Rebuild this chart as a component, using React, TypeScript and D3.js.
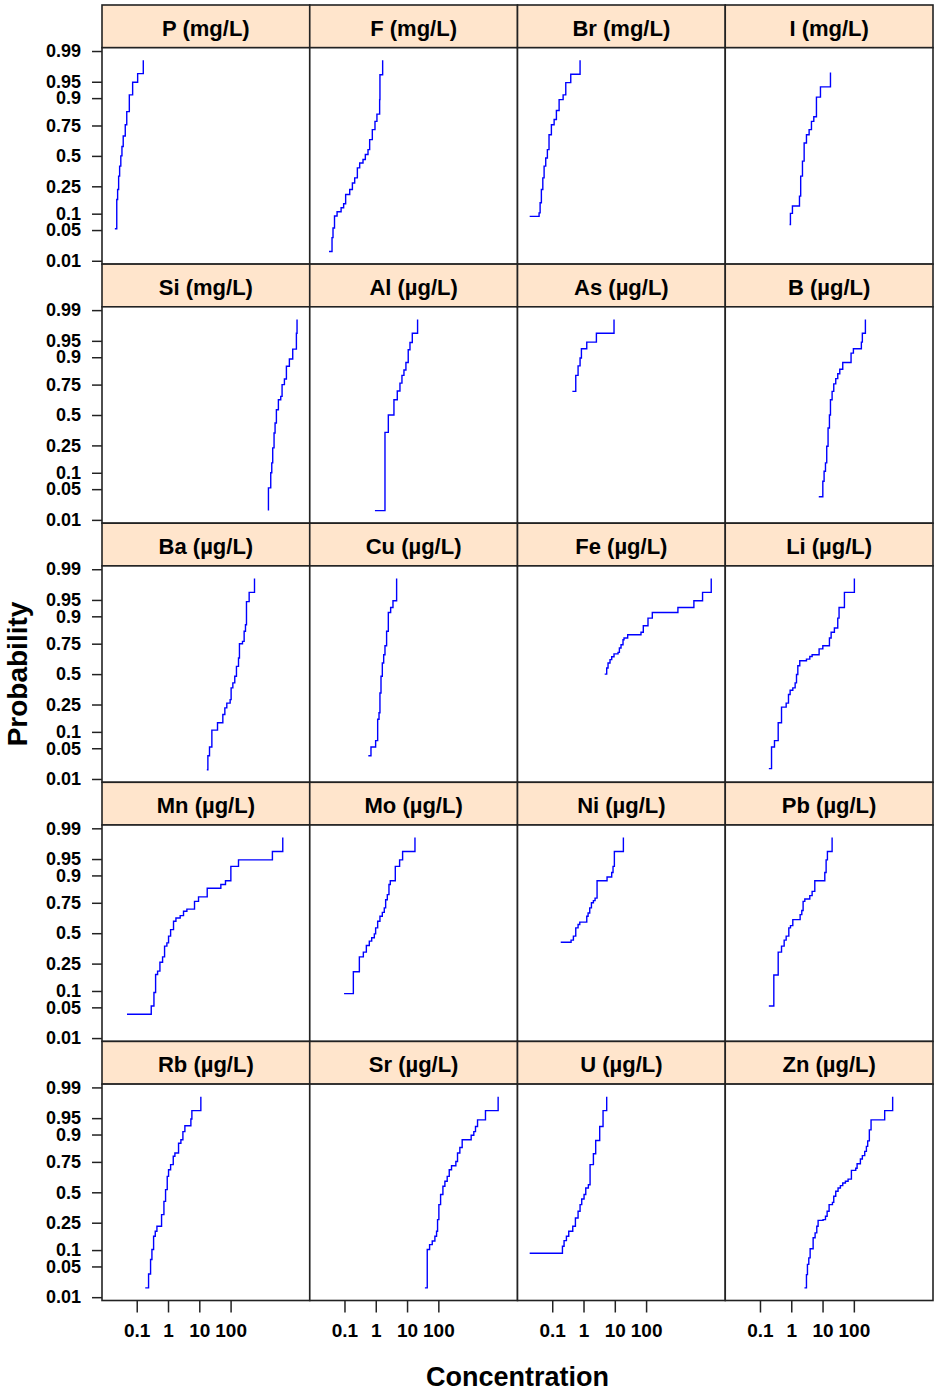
import React, { useEffect, useRef } from "react";
import * as d3 from "d3";

// panel titles, in reading order (4 per row)
const labels = [
  "P (mg/L)", "F (mg/L)", "Br (mg/L)", "I (mg/L)",
  "Si (mg/L)", "Al (µg/L)", "As (µg/L)", "B (µg/L)",
  "Ba (µg/L)", "Cu (µg/L)", "Fe (µg/L)", "Li (µg/L)",
  "Mn (µg/L)", "Mo (µg/L)", "Ni (µg/L)", "Pb (µg/L)",
  "Rb (µg/L)", "Sr (µg/L)", "U (µg/L)", "Zn (µg/L)",
];

// step vertices: concentration and cumulative probability
const P_conc = [0.020, 0.023, 0.0245, 0.0264, 0.0284, 0.031, 0.0337, 0.037, 0.043, 0.048, 0.058, 0.074, 0.107, 0.162];
const P_prob = [0.053, 0.167, 0.228, 0.327, 0.41, 0.50, 0.583, 0.67, 0.755, 0.837, 0.912, 0.949, 0.966, 0.983];
const F_conc = [0.032, 0.040, 0.043, 0.048, 0.058, 0.078, 0.094, 0.109, 0.147, 0.179, 0.212, 0.258, 0.306, 0.391, 0.464, 0.565, 0.638, 0.776, 0.944, 1.09, 1.33, 1.36, 1.66];
const F_prob = [0.017, 0.035, 0.055, 0.091, 0.108, 0.125, 0.144, 0.196, 0.228, 0.274, 0.313, 0.395, 0.438, 0.468, 0.512, 0.555, 0.641, 0.72, 0.778, 0.823, 0.894, 0.964, 0.983];
const Br_conc = [0.019, 0.038, 0.041, 0.045, 0.050, 0.055, 0.062, 0.070, 0.079, 0.094, 0.115, 0.136, 0.166, 0.223, 0.271, 0.391, 0.776];
const Br_prob = [0.090, 0.103, 0.149, 0.228, 0.313, 0.41, 0.482, 0.555, 0.68, 0.755, 0.79, 0.843, 0.894, 0.912, 0.948, 0.965, 0.983];
const I_conc = [0.88, 0.94, 1.09, 1.83, 2.0, 2.28, 2.58, 3.06, 3.72, 4.42, 5.25, 6.38, 8.57, 17.9];
const I_prob = [0.064, 0.101, 0.133, 0.186, 0.327, 0.454, 0.613, 0.68, 0.72, 0.778, 0.807, 0.904, 0.937, 0.968];
const Si_conc = [1620, 1620, 1920, 2070, 2220, 2450, 2640, 2910, 3370, 4010, 4420, 5250, 6080, 7570, 9680, 12680, 13300];
const Si_prob = [0.017, 0.053, 0.10, 0.144, 0.233, 0.345, 0.43, 0.547, 0.632, 0.66, 0.75, 0.788, 0.86, 0.893, 0.928, 0.965, 0.983];
const Al_conc = [0.94, 1.97, 2.52, 3.81, 4.87, 5.93, 6.87, 7.96, 9.2, 10.9, 12.4, 14.7, 21.7];
const Al_prob = [0.017, 0.35, 0.50, 0.632, 0.703, 0.76, 0.81, 0.841, 0.878, 0.926, 0.946, 0.965, 0.983];
const As_conc = [0.44, 0.565, 0.67, 0.776, 0.857, 1.27, 2.58, 9.44];
const As_prob = [0.70, 0.81, 0.862, 0.897, 0.929, 0.947, 0.965, 0.983];
const B_conc = [7.57, 10.2, 11.2, 12.4, 13.6, 15.0, 16.6, 17.9, 20.2, 22.8, 26.4, 30.6, 35.5, 44.2, 81.5, 96.8, 174, 187, 234];
const B_prob = [0.035, 0.071, 0.106, 0.144, 0.244, 0.387, 0.50, 0.632, 0.70, 0.755, 0.79, 0.82, 0.845, 0.878, 0.915, 0.929, 0.947, 0.965, 0.983];
const Ba_conc = [17.4, 18.8, 21.2, 25.2, 38.2, 56.5, 65.5, 75.7, 96.8, 104, 118, 136, 154, 179, 192, 240, 271, 299, 322, 392, 581];
const Ba_prob = [0.017, 0.035, 0.053, 0.107, 0.14, 0.185, 0.227, 0.26, 0.286, 0.38, 0.423, 0.481, 0.568, 0.64, 0.75, 0.766, 0.829, 0.863, 0.946, 0.965, 0.983];
const Cu_conc = [0.578, 0.703, 0.99, 1.15, 1.27, 1.36, 1.47, 1.62, 1.79, 1.97, 2.22, 2.52, 2.99, 3.55, 4.64];
const Cu_prob = [0.035, 0.053, 0.07, 0.158, 0.196, 0.338, 0.481, 0.597, 0.666, 0.735, 0.829, 0.914, 0.93, 0.948, 0.983];
const Fe_conc = [4.75, 5.51, 6.08, 7.03, 7.96, 9.44, 12.7, 14.0, 15.8, 18.3, 19.7, 25.8, 68.7, 81.5, 115, 158, 1040, 3370, 6380, 12080];
const Fe_prob = [0.50, 0.554, 0.597, 0.626, 0.65, 0.673, 0.685, 0.719, 0.742, 0.777, 0.788, 0.809, 0.823, 0.858, 0.893, 0.914, 0.93, 0.948, 0.965, 0.983];
const Li_conc = [0.192, 0.234, 0.291, 0.382, 0.488, 0.687, 0.815, 0.92, 1.12, 1.33, 1.47, 1.62, 1.87, 3.06, 3.91, 4.64, 7.76, 10.2, 16.6, 18.8, 23.9, 30.6, 33.7, 50.0, 104];
const Li_prob = [0.018, 0.053, 0.07, 0.14, 0.232, 0.26, 0.325, 0.36, 0.38, 0.423, 0.496, 0.574, 0.617, 0.63, 0.652, 0.666, 0.712, 0.735, 0.788, 0.823, 0.847, 0.893, 0.93, 0.965, 0.983];
const Mn_conc = [0.0488, 0.291, 0.355, 0.401, 0.464, 0.551, 0.67, 0.776, 0.92, 1.04, 1.21, 1.50, 1.79, 2.45, 3.13, 4.01, 7.03, 9.44, 17.9, 48.8, 68.7, 102, 179, 2170, 4650];
const Mn_prob = [0.036, 0.053, 0.094, 0.18, 0.2, 0.26, 0.30, 0.387, 0.415, 0.474, 0.532, 0.605, 0.632, 0.652, 0.687, 0.703, 0.76, 0.79, 0.841, 0.86, 0.878, 0.931, 0.948, 0.965, 0.983];
const Mo_conc = [0.097, 0.192, 0.299, 0.401, 0.50, 0.622, 0.74, 0.90, 0.99, 1.15, 1.36, 1.62, 1.87, 2.07, 2.34, 2.64, 2.91, 4.21, 5.78, 7.21, 17.9];
const Mo_prob = [0.09, 0.196, 0.30, 0.337, 0.392, 0.43, 0.46, 0.494, 0.547, 0.605, 0.646, 0.678, 0.713, 0.771, 0.804, 0.86, 0.878, 0.931, 0.948, 0.965, 0.983];
const Ni_conc = [0.187, 0.40, 0.475, 0.565, 0.67, 0.759, 1.27, 1.40, 1.58, 1.79, 2.07, 2.34, 2.71, 5.65, 7.96, 8.78, 9.68, 18.8];
const Ni_prob = [0.421, 0.439, 0.474, 0.547, 0.576, 0.597, 0.646, 0.673, 0.713, 0.75, 0.765, 0.782, 0.878, 0.894, 0.911, 0.931, 0.965, 0.983];
const Pb_conc = [0.192, 0.277, 0.382, 0.488, 0.593, 0.687, 0.835, 0.944, 1.12, 1.92, 2.17, 2.39, 2.71, 3.91, 4.64, 5.65, 11.8, 13.0, 14.3, 20.2];
const Pb_prob = [0.053, 0.177, 0.337, 0.387, 0.439, 0.474, 0.547, 0.567, 0.618, 0.66, 0.693, 0.76, 0.776, 0.798, 0.823, 0.878, 0.911, 0.948, 0.965, 0.983];
const Rb_conc = [0.187, 0.239, 0.277, 0.306, 0.346, 0.391, 0.442, 0.622, 0.74, 0.835, 0.944, 1.04, 1.21, 1.47, 1.66, 2.17, 2.58, 2.99, 3.46, 5.38, 5.79, 11.2];
const Rb_prob = [0.017, 0.035, 0.068, 0.102, 0.165, 0.194, 0.226, 0.31, 0.42, 0.524, 0.638, 0.691, 0.73, 0.788, 0.808, 0.862, 0.878, 0.911, 0.93, 0.948, 0.965, 0.983];
const Sr_conc = [37.2, 44.2, 52.5, 63.8, 77.6, 87.7, 94.4, 104, 118, 140, 162, 192, 223, 264, 363, 410, 487, 578, 1120, 1360, 1540, 1790, 3210, 8150];
const Sr_prob = [0.017, 0.102, 0.123, 0.14, 0.165, 0.194, 0.272, 0.392, 0.48, 0.553, 0.597, 0.638, 0.691, 0.722, 0.753, 0.808, 0.84, 0.878, 0.897, 0.911, 0.928, 0.946, 0.965, 0.983];
const U_conc = [0.019, 0.212, 0.239, 0.284, 0.337, 0.453, 0.551, 0.67, 0.776, 0.877, 1.04, 1.18, 1.43, 1.62, 2.07, 2.45, 3.29, 4.21, 5.51];
const U_prob = [0.088, 0.116, 0.142, 0.165, 0.194, 0.226, 0.284, 0.337, 0.392, 0.441, 0.48, 0.538, 0.567, 0.73, 0.804, 0.875, 0.928, 0.965, 0.983];
const Zn_conc = [2.64, 3.06, 3.29, 3.63, 4.01, 5.0, 5.78, 6.54, 7.21, 10.4, 12.4, 14.0, 16.2, 20.7, 22.8, 26.4, 31.3, 37.2, 44.2, 53.8, 65.5, 83.6, 115, 127, 162, 187, 223, 252, 277, 313, 355, 968, 1740];
const Zn_prob = [0.017, 0.034, 0.055, 0.073, 0.105, 0.157, 0.184, 0.226, 0.267, 0.272, 0.298, 0.337, 0.392, 0.412, 0.465, 0.509, 0.538, 0.559, 0.582, 0.597, 0.615, 0.687, 0.703, 0.737, 0.77, 0.792, 0.818, 0.846, 0.873, 0.917, 0.946, 0.965, 0.983];

const concs = [P_conc, F_conc, Br_conc, I_conc, Si_conc, Al_conc, As_conc, B_conc, Ba_conc, Cu_conc, Fe_conc, Li_conc, Mn_conc, Mo_conc, Ni_conc, Pb_conc, Rb_conc, Sr_conc, U_conc, Zn_conc];
const probs = [P_prob, F_prob, Br_prob, I_prob, Si_prob, Al_prob, As_prob, B_prob, Ba_prob, Cu_prob, Fe_prob, Li_prob, Mn_prob, Mo_prob, Ni_prob, Pb_prob, Rb_prob, Sr_prob, U_prob, Zn_prob];

const yTicks = [0.01, 0.05, 0.1, 0.25, 0.5, 0.75, 0.9, 0.95, 0.99];
const yTickLabels = ["0.01", "0.05", "0.1", "0.25", "0.5", "0.75", "0.9", "0.95", "0.99"];
const xTicks = [0.1, 1, 10, 100];
const xTickLabels = ["0.1", "1", "10", "100"];

// normal quantile (Acklam)
function qnorm(p: number): number {
  const a = [-39.69683028665376, 220.9460984245205, -275.9285104469687, 138.357751867269, -30.66479806614716, 2.506628277459239];
  const b = [-54.47609879822406, 161.5858368580409, -155.6989798598866, 66.80131188771972, -13.28068155288572];
  const c = [-0.007784894002430293, -0.3223964580411365, -2.400758277161838, -2.549732539343734, 4.374664141464968, 2.938163982698783];
  const d = [0.007784695709041462, 0.3224671290700398, 2.445134137142996, 3.754408661907416];
  const pl = 0.02425;
  if (p < pl) {
    const q = Math.sqrt(-2 * Math.log(p));
    return (((((c[0] * q + c[1]) * q + c[2]) * q + c[3]) * q + c[4]) * q + c[5]) / ((((d[0] * q + d[1]) * q + d[2]) * q + d[3]) * q + 1);
  }
  if (p > 1 - pl) {
    const q = Math.sqrt(-2 * Math.log(1 - p));
    return -(((((c[0] * q + c[1]) * q + c[2]) * q + c[3]) * q + c[4]) * q + c[5]) / ((((d[0] * q + d[1]) * q + d[2]) * q + d[3]) * q + 1);
  }
  const q = p - 0.5;
  const r = q * q;
  return ((((((a[0] * r + a[1]) * r + a[2]) * r + a[3]) * r + a[4]) * r + a[5]) * q) / (((((b[0] * r + b[1]) * r + b[2]) * r + b[3]) * r + b[4]) * r + 1);
}

const FONT = "'Liberation Sans', Arial, Helvetica, sans-serif";

const App = () => {
  const svgRef = useRef<SVGSVGElement>(null);
  const W = 934;
  const H = 1394;
  const left = 102;
  const top = 5;
  const panelW = 207.75;
  const stripH = 42.7;
  const panelH = 216.4;
  const rowH = stripH + panelH;

  useEffect(() => {
    const svg = d3.select(svgRef.current);
    svg.selectAll("*").remove();

    const x = d3.scaleLog().domain([Math.pow(10, -2.11), Math.pow(10, 4.53)]).range([0, panelW]);
    const y = d3.scaleLinear().domain([-2.4, 2.4]).range([panelH, 0]);

    const line = d3
      .line<[number, number]>()
      .x((d) => x(d[0]))
      .y((d) => y(qnorm(d[1])))
      .curve(d3.curveStepAfter);

    labels.forEach((lab, i) => {
      const col = i % 4;
      const row = Math.floor(i / 4);
      const g = svg.append("g").attr("transform", `translate(${left + col * panelW},${top + row * rowH})`);

      // strip
      g.append("rect")
        .attr("width", panelW)
        .attr("height", stripH)
        .attr("fill", "#ffe5cc")
        .attr("stroke", "#222")
        .attr("stroke-width", 1.6);
      g.append("text")
        .attr("x", panelW / 2)
        .attr("y", 31)
        .attr("text-anchor", "middle")
        .attr("font-family", FONT)
        .attr("font-weight", "bold")
        .attr("font-size", 22)
        .attr("fill", "#000")
        .text(lab);

      const p = g.append("g").attr("transform", `translate(0,${stripH})`);
      p.append("rect")
        .attr("width", panelW)
        .attr("height", panelH)
        .attr("fill", "#fff")
        .attr("stroke", "#222")
        .attr("stroke-width", 1.6);

      p.append("path")
        .datum(d3.zip(concs[i], probs[i]) as [number, number][])
        .attr("d", line)
        .attr("fill", "none")
        .attr("stroke", "#0000ff")
        .attr("stroke-width", 1.4);

      if (col === 0) {
        const ax = p
          .append("g")
          .call(
            d3
              .axisLeft(y)
              .tickValues(yTicks.map(qnorm))
              .tickFormat((_, k) => yTickLabels[k])
              .tickSize(10)
              .tickPadding(11)
          );
        ax.select(".domain").remove();
        ax.selectAll("line").attr("stroke", "#222").attr("stroke-width", 1.5);
        ax.selectAll("text")
          .attr("font-family", FONT)
          .attr("font-weight", "bold")
          .attr("font-size", 18)
          .attr("fill", "#000");
      }

      if (row === 4) {
        const ax = p
          .append("g")
          .attr("transform", `translate(0,${panelH})`)
          .call(
            d3
              .axisBottom(x)
              .tickValues(xTicks)
              .tickFormat((_, k) => xTickLabels[k])
              .tickSize(12)
              .tickPadding(11)
          );
        ax.select(".domain").remove();
        ax.selectAll("line").attr("stroke", "#222").attr("stroke-width", 1.5);
        ax.selectAll("text")
          .attr("font-family", FONT)
          .attr("font-weight", "bold")
          .attr("font-size", 19)
          .attr("fill", "#000");
      }
    });

    svg.append("text")
      .attr("x", left + 2 * panelW)
      .attr("y", 1386)
      .attr("text-anchor", "middle")
      .attr("font-family", FONT)
      .attr("font-weight", "bold")
      .attr("font-size", 27)
      .text("Concentration");

    svg.append("text")
      .attr("transform", "translate(27,674) rotate(-90)")
      .attr("text-anchor", "middle")
      .attr("font-family", FONT)
      .attr("font-weight", "bold")
      .attr("font-size", 28)
      .text("Probability");
  }, []);

  return (
    <svg
      ref={svgRef}
      width={W}
      height={H}
      style={{ position: "absolute", left: 0, top: 0, background: "#fff" }}
    ></svg>
  );
};

export default App;
